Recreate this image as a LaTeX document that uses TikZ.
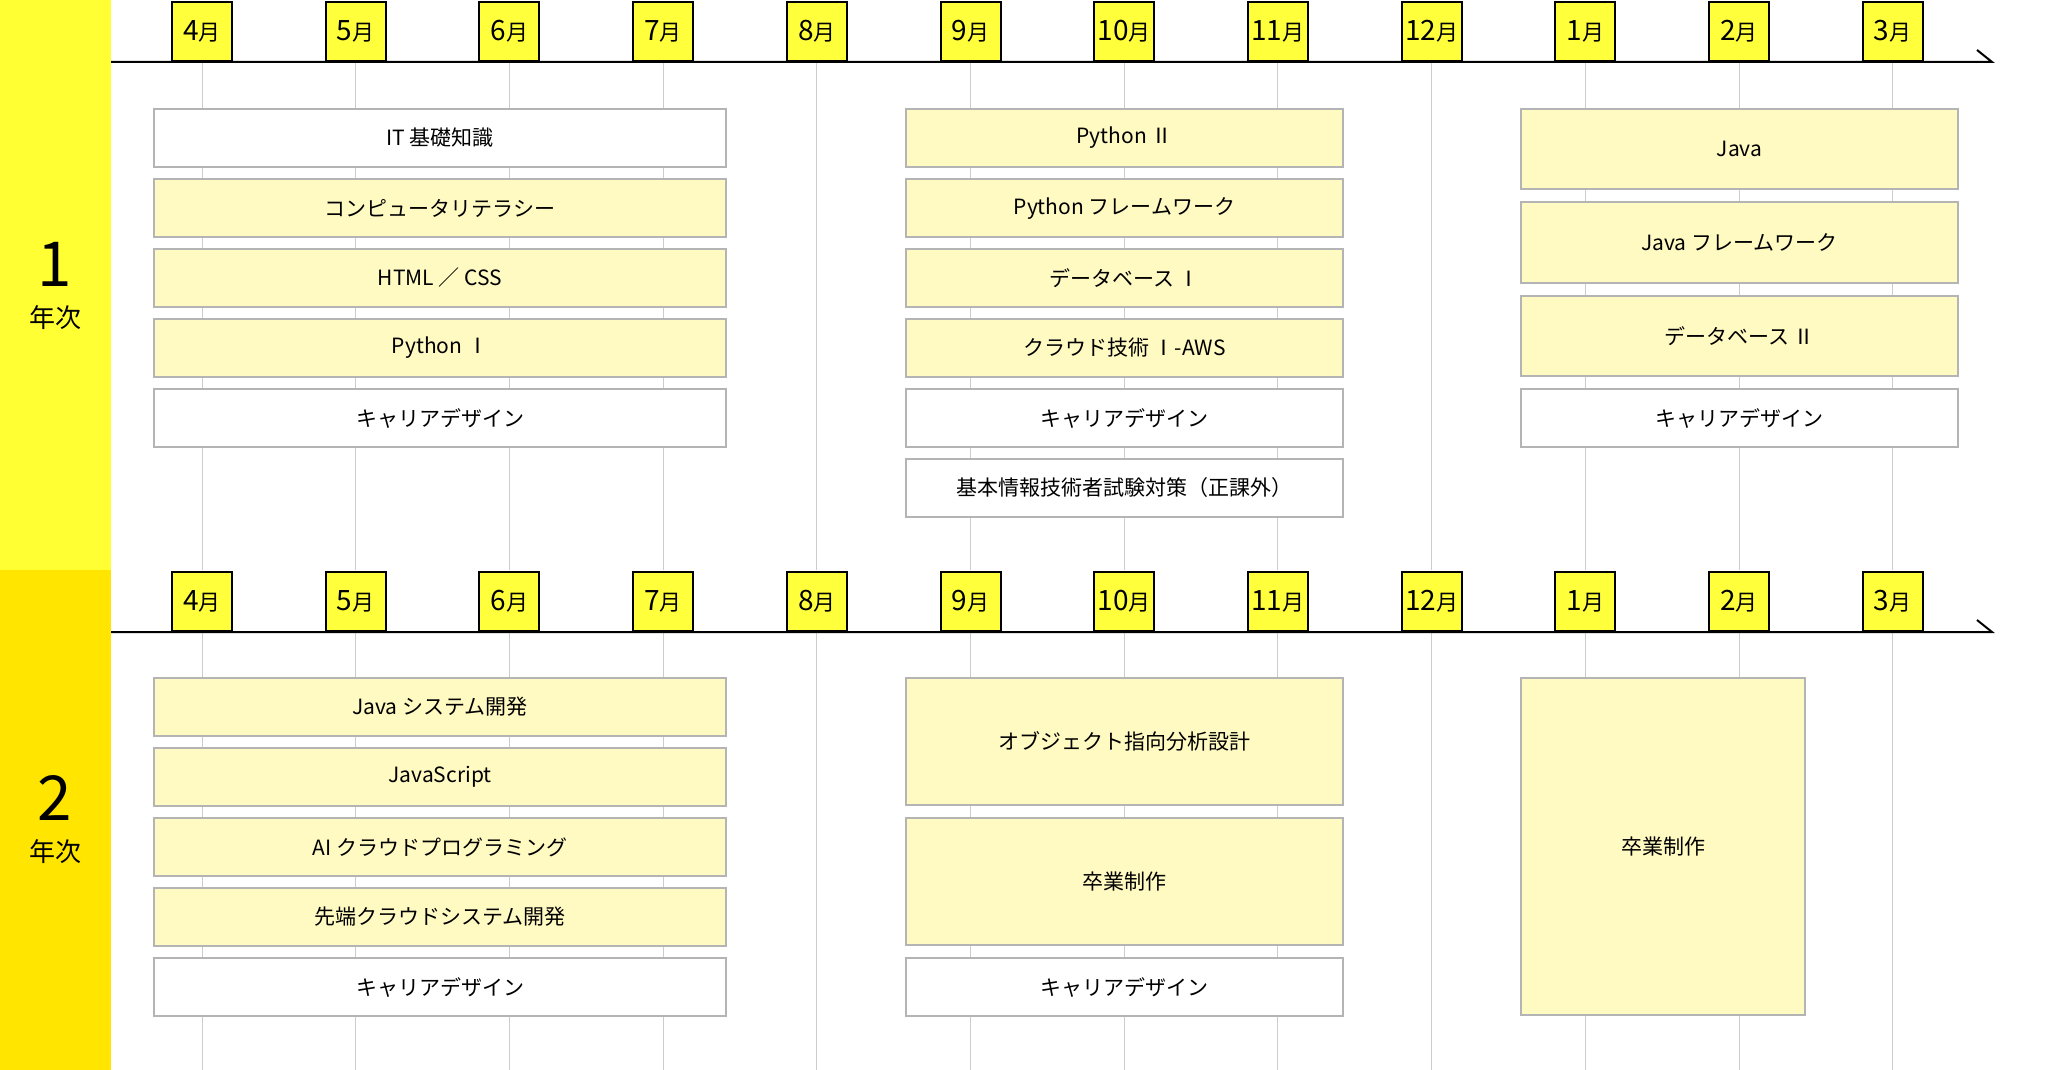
\documentclass[tikz,border=0pt]{standalone}
\usepackage{fontspec}
\setmainfont{Noto Sans CJK JP}
\usetikzlibrary{positioning}

\definecolor{yearone}{HTML}{FFFF33}
\definecolor{yeartwo}{HTML}{FFE500}
\definecolor{tabyellow}{HTML}{FFFF3C}
\definecolor{coursefill}{HTML}{FFF9C2}
\definecolor{courseline}{HTML}{B4B4B4}
\definecolor{gridgray}{HTML}{CCCCCC}

\tikzset{
  course/.style={draw=courseline, line width=1pt, fill=coursefill, inner sep=0pt,
    minimum width=218.5pt, minimum height=29pt, font=\fontsize{10.5}{12}\selectfont},
  plain/.style={course, fill=white},
  wide/.style={minimum width=286pt},
  monthtab/.style={draw, line width=1pt, fill=tabyellow, inner sep=0pt, anchor=south,
    minimum width=30pt, minimum height=29.5pt},
  gridline/.style={gridgray, line width=0.5pt},
  timeline/.style={line width=1pt}
}
\newcommand{\monthlabel}[1]{{\fontsize{14}{14}\selectfont #1}{\fontsize{11}{14}\selectfont 月}}

\begin{document}
\begin{tikzpicture}[x=0.5pt, y=-0.5pt, node distance=5pt]
\useasboundingbox (0,0) rectangle (2072,1070);

\fill[yearone] (0,0) rectangle (111,570);
\fill[yeartwo] (0,570) rectangle (111,1070);
\node (yrone) at (55,264) {\fontsize{31}{31}\selectfont 1};
\node (yronelbl) at (55,318) {\fontsize{13}{13}\selectfont 年次};
\node (yrtwo) at (55,798) {\fontsize{31}{31}\selectfont 2};
\node (yrtwolbl) at (55,852) {\fontsize{13}{13}\selectfont 年次};

\foreach \lbl [count=\i from 0] in {4,5,6,7,8,9,10,11,12,1,2,3} {
  \draw[gridline] (202+153.7*\i,62) -- (202+153.7*\i,570);
  \draw[gridline] (202+153.7*\i,632) -- (202+153.7*\i,1070);
}

\draw[timeline] (111,62) -- (1992,62) -- (1977,50);
\draw[timeline] (111,632) -- (1992,632) -- (1977,620);

\foreach \lbl [count=\i from 0] in {4,5,6,7,8,9,10,11,12,1,2,3} {
  \node[monthtab] (ma\i) at (202+153.7*\i,62) {\monthlabel{\lbl}};
  \node[monthtab] (mb\i) at (202+153.7*\i,632) {\monthlabel{\lbl}};
}

\node[plain, wide, anchor=north west] (itbase) at (153,108) {IT 基礎知識};
\node[course, wide, below=of itbase] (literacy) {コンピュータリテラシー};
\node[course, wide, below=of literacy] (htmlcss) {HTML ／ CSS};
\node[course, wide, below=of htmlcss] (pyone) {Python Ⅰ};
\node[plain, wide, below=of pyone] (careera) {キャリアデザイン};

\node[course, anchor=north west] (pytwo) at (905,108) {Python Ⅱ};
\node[course, below=of pytwo] (pyframe) {Python フレームワーク};
\node[course, below=of pyframe] (dbone) {データベース Ⅰ};
\node[course, below=of dbone] (cloudaws) {クラウド技術 Ⅰ-AWS};
\node[plain, below=of cloudaws] (careerb) {キャリアデザイン};
\node[plain, below=of careerb] (kihon) {基本情報技術者試験対策（正課外）};

\node[course, minimum height=40.2pt, anchor=north west] (java) at (1520,108) {Java};
\node[course, minimum height=40.2pt, below=5.5pt of java] (javaframe) {Java フレームワーク};
\node[course, minimum height=40.2pt, below=5.5pt of javaframe] (dbtwo) {データベース Ⅱ};
\node[plain, below=5.5pt of dbtwo] (careerc) {キャリアデザイン};

\node[course, wide, anchor=north west] (javasys) at (153,677) {Java システム開発};
\node[course, wide, below=of javasys] (jscript) {JavaScript};
\node[course, wide, below=of jscript] (aicloud) {AI クラウドプログラミング};
\node[course, wide, below=of aicloud] (sentan) {先端クラウドシステム開発};
\node[plain, wide, below=of sentan] (careerd) {キャリアデザイン};

\node[course, minimum height=63.5pt, anchor=north west] (objdesign) at (905,677) {オブジェクト指向分析設計};
\node[course, minimum height=63.5pt, below=5.5pt of objdesign] (gradwork) {卒業制作};
\node[plain, below=5.5pt of gradwork] (careere) {キャリアデザイン};

\node[course, minimum width=142pt, minimum height=168.5pt, anchor=north west] (gradworkb) at (1520,677) {卒業制作};
\end{tikzpicture}
\end{document}
